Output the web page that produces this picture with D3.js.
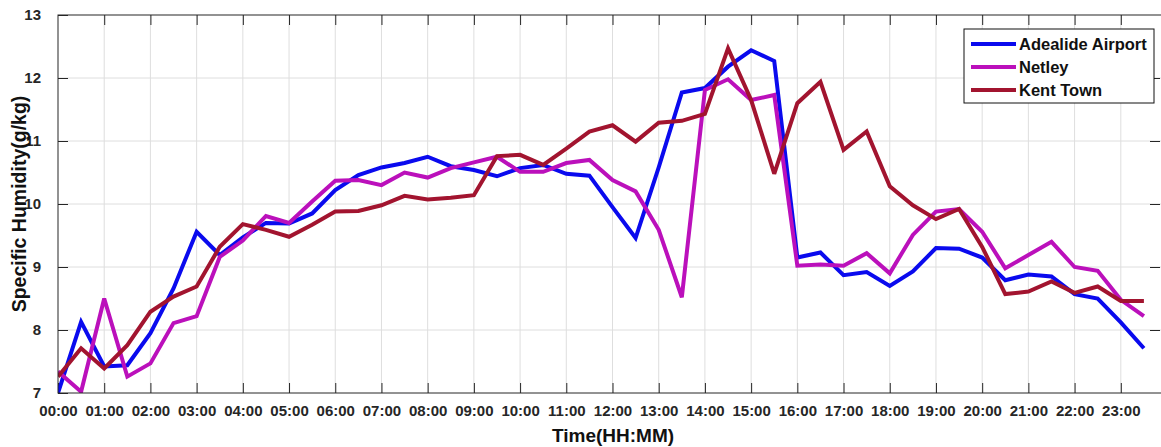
<!DOCTYPE html>
<html>
<head>
<meta charset="utf-8">
<script src="https://cdn.jsdelivr.net/npm/d3@7"></script>
<style>
  html, body { margin: 0; padding: 0; background: #fff; }
  svg { display: block; }
  text { font-family: "Liberation Sans", Arial, Helvetica, sans-serif; font-weight: bold; }
</style>
</head>
<body>
<svg id="chart" width="1161" height="447"></svg>
<script>
// Half-hourly sample times (hours after midnight)
const hours = d3.range(0, 24, 0.5);

// Specific humidity (g/kg) per station
const adelaideAirport = [
  7.00, 8.13, 7.42, 7.44, 7.95, 8.66, 9.56, 9.19, 9.47, 9.70, 9.69, 9.85,
  10.22, 10.46, 10.58, 10.65, 10.75, 10.60, 10.54, 10.44, 10.57, 10.62, 10.48, 10.45,
  9.95, 9.46, 10.58, 11.77, 11.84, 12.18, 12.44, 12.27, 9.15, 9.23, 8.87, 8.92,
  8.70, 8.93, 9.30, 9.29, 9.15, 8.79, 8.88, 8.85, 8.57, 8.50, 8.12, 7.71
];
const netley = [
  7.34, 7.02, 8.50, 7.26, 7.47, 8.11, 8.22, 9.16, 9.42, 9.81, 9.70, 10.04,
  10.37, 10.38, 10.30, 10.50, 10.42, 10.57, 10.66, 10.75, 10.51, 10.51, 10.65, 10.70,
  10.38, 10.20, 9.59, 8.52, 11.81, 11.98, 11.65, 11.73, 9.02, 9.04, 9.02, 9.22,
  8.90, 9.51, 9.88, 9.92, 9.56, 8.98, 9.19, 9.40, 9.00, 8.94, 8.48, 8.22
];
const kentTown = [
  7.26, 7.71, 7.39, 7.76, 8.29, 8.53, 8.69, 9.32, 9.68, 9.59, 9.48, 9.67,
  9.88, 9.89, 9.98, 10.13, 10.07, 10.10, 10.14, 10.76, 10.78, 10.62, 10.88, 11.15,
  11.25, 10.99, 11.29, 11.32, 11.43, 12.47, 11.65, 10.48, 11.60, 11.94, 10.86, 11.15,
  10.28, 9.98, 9.76, 9.92, 9.32, 8.57, 8.61, 8.77, 8.59, 8.69, 8.46, 8.46
];

const seriesNames = ["Adealide Airport", "Netley", "Kent Town"];
const seriesColors = ["#0a0aee", "#bb10bb", "#a2142f"];

// Hourly tick labels
const xTickHours = d3.range(0, 24, 1);
const xTickLabels = xTickHours.map(h => String(h).padStart(2, "0") + ":00");
const yTicks = [7, 8, 9, 10, 11, 12, 13];

const svg = d3.select("#chart");
const margin = { left: 58, top: 15, right: 1161, bottom: 393 };

const x = d3.scaleLinear().domain([0, 23.87]).range([margin.left, margin.right]);
const y = d3.scaleLinear().domain([7, 13]).range([margin.bottom, margin.top]);

const axisColor = "#262626";
const gridColor = "#dedede";
const tickLen = 10;

// Grid
const grid = svg.append("g");
grid.selectAll("line.vg").data(xTickHours.slice(1)).join("line")
  .attr("x1", d => x(d)).attr("x2", d => x(d))
  .attr("y1", margin.top).attr("y2", margin.bottom)
  .attr("stroke", gridColor).attr("stroke-width", 1);
grid.selectAll("line.hg").data(yTicks.slice(1, -1)).join("line")
  .attr("x1", margin.left).attr("x2", margin.right)
  .attr("y1", d => y(d)).attr("y2", d => y(d))
  .attr("stroke", gridColor).attr("stroke-width", 1);

// Axes (bottom and left carry the labels, top and right mirror the ticks)
const xAxis = d3.axisBottom(x).tickValues(xTickHours)
  .tickFormat((d, i) => xTickLabels[i]).tickSizeInner(-tickLen).tickSizeOuter(0).tickPadding(12);
const gx = svg.append("g").attr("transform", `translate(0,${margin.bottom})`).call(xAxis);
gx.select(".domain").remove();
gx.selectAll("line").attr("stroke", axisColor);
gx.selectAll("text").attr("fill", axisColor).style("font-size", "15px");

const xTop = d3.axisTop(x).tickValues(xTickHours.slice(1)).tickFormat("")
  .tickSizeInner(-tickLen).tickSizeOuter(0);
const gxt = svg.append("g").attr("transform", `translate(0,${margin.top})`).call(xTop);
gxt.select(".domain").remove();
gxt.selectAll("line").attr("stroke", axisColor);

const yAxis = d3.axisLeft(y).tickValues(yTicks).tickFormat(d3.format("d"))
  .tickSizeInner(-tickLen).tickSizeOuter(0).tickPadding(17);
const gy = svg.append("g").attr("transform", `translate(${margin.left},0)`).call(yAxis);
gy.select(".domain").remove();
gy.selectAll("line").attr("stroke", axisColor);
gy.selectAll("text").attr("fill", axisColor).style("font-size", "15px");

const yRight = d3.axisRight(y).tickValues(yTicks.slice(1, -1)).tickFormat("")
  .tickSizeInner(-tickLen).tickSizeOuter(0);
const gyr = svg.append("g").attr("transform", `translate(${margin.right - 1},0)`).call(yRight);
gyr.select(".domain").remove();
gyr.selectAll("line").attr("stroke", axisColor);

// Clip the series to the axes box
svg.append("clipPath").attr("id", "plotClip").append("rect")
  .attr("x", margin.left).attr("y", margin.top)
  .attr("width", margin.right - margin.left).attr("height", margin.bottom - margin.top);

const line = d3.line().x((d, i) => x(hours[i])).y(d => y(d));
const allSeries = [adelaideAirport, netley, kentTown];

const plot = svg.append("g").attr("clip-path", "url(#plotClip)");
plot.selectAll("path.series").data(allSeries).join("path")
  .attr("class", "series")
  .attr("d", d => line(d))
  .attr("fill", "none")
  .attr("stroke", (d, i) => seriesColors[i])
  .attr("stroke-width", 4)
  .attr("stroke-linejoin", "miter")
  .attr("stroke-miterlimit", 3);

// Axes box
svg.append("rect")
  .attr("x", margin.left).attr("y", margin.top)
  .attr("width", margin.right - margin.left + 2).attr("height", margin.bottom - margin.top)
  .attr("fill", "none").attr("stroke", axisColor).attr("stroke-width", 1);

// Axis titles
svg.append("text")
  .attr("x", 613).attr("y", 442)
  .attr("text-anchor", "middle").attr("fill", "#111")
  .style("font-size", "19px").text("Time(HH:MM)");
svg.append("text")
  .attr("transform", `translate(26,204) rotate(-90)`)
  .attr("text-anchor", "middle").attr("fill", "#111")
  .style("font-size", "19.5px").text("Specific Humidity(g/kg)");

// Legend
const legend = svg.append("g");
legend.append("rect")
  .attr("x", 964).attr("y", 29).attr("width", 190).attr("height", 74)
  .attr("fill", "#fff").attr("stroke", "#111").attr("stroke-width", 1);
const rows = legend.selectAll("g.row").data(seriesNames).join("g")
  .attr("transform", (d, i) => `translate(0,${44 + i * 23})`);
rows.append("line")
  .attr("x1", 971).attr("x2", 1016).attr("y1", 0).attr("y2", 0)
  .attr("stroke", (d, i) => seriesColors[i]).attr("stroke-width", 4);
rows.append("text")
  .attr("x", 1019).attr("y", 6).attr("fill", "#111")
  .style("font-size", "16.5px").text(d => d);
</script>
</body>
</html>
